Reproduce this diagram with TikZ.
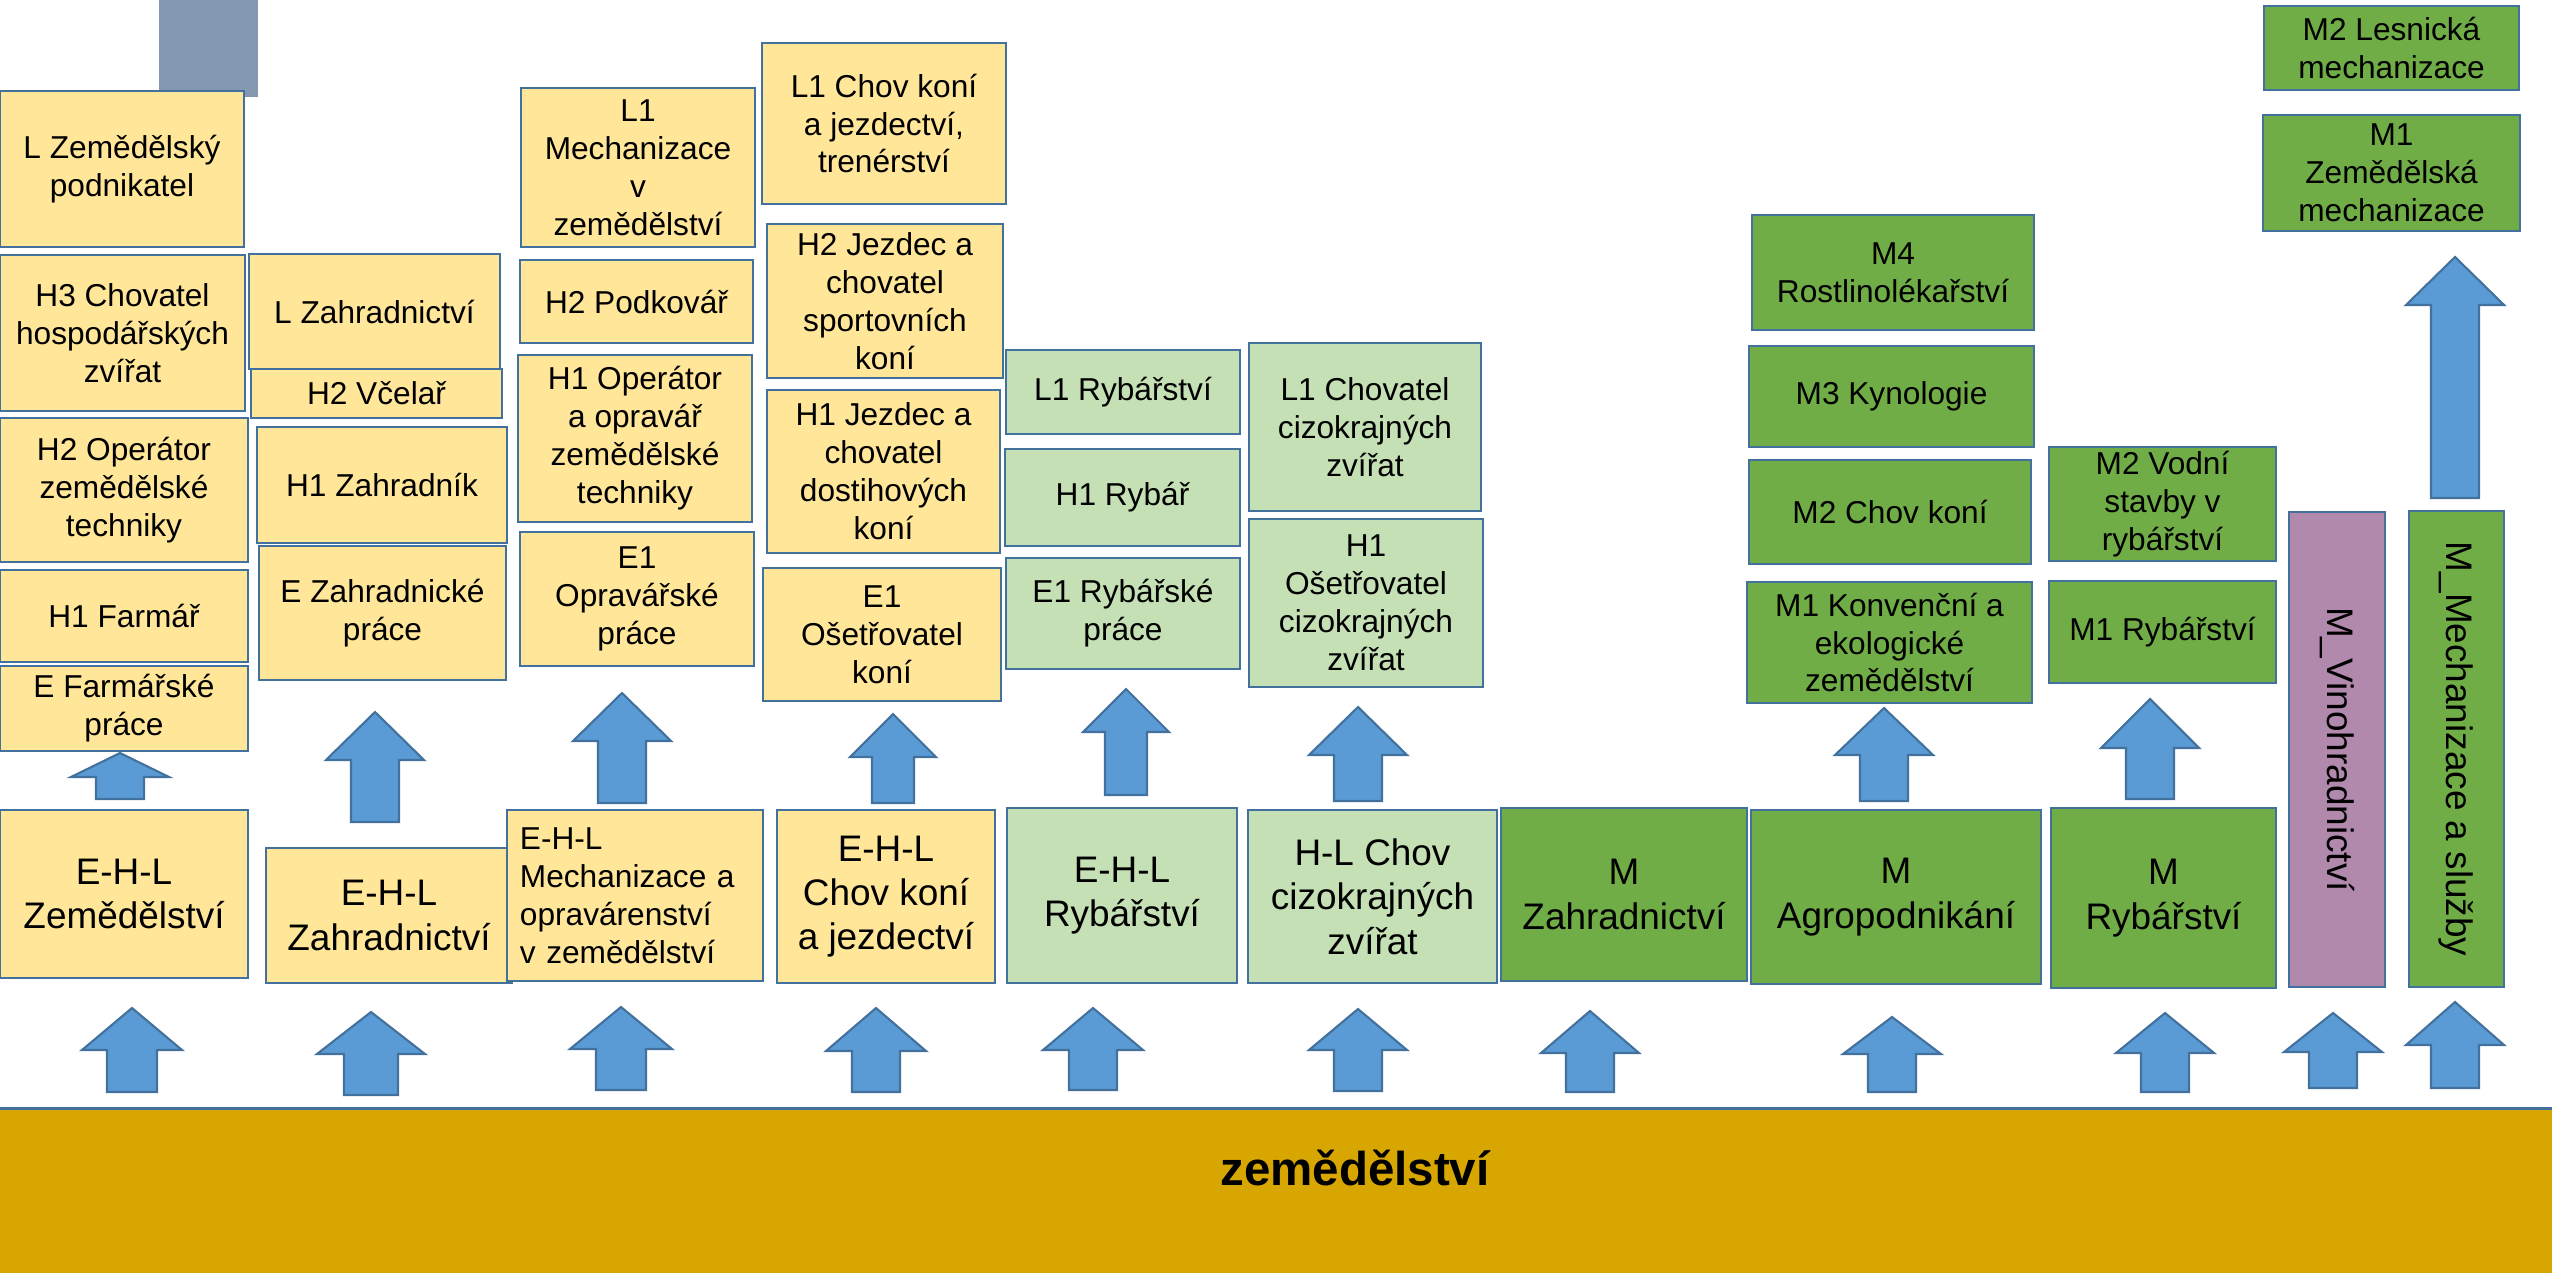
\documentclass[tikz,border=0pt]{standalone}
\usepackage{fontspec}
\setmainfont{Liberation Sans}
\definecolor{bordblue}{HTML}{41719C}
\definecolor{arrblue}{HTML}{5B9BD5}
\definecolor{yelfill}{HTML}{FFE699}
\definecolor{palegreen}{HTML}{C5E0B4}
\definecolor{leafgreen}{HTML}{70AD47}
\definecolor{vinecol}{HTML}{B189AC}
\definecolor{slate}{HTML}{8497B0}
\definecolor{bandcol}{HTML}{D8A600}
\tikzset{
    box/.style={rectangle,draw=bordblue,line width=0.75pt,inner sep=0,align=center,font=\fontsize{9}{10.8}\selectfont},
    yel/.style={box,fill=yelfill},
    pale/.style={box,fill=palegreen},
    grn/.style={box,fill=leafgreen},
    vino/.style={box,fill=vinecol},
    bigtxt/.style={font=\fontsize{10.5}{12.6}\selectfont},
    blockarr/.style={draw=bordblue,fill=arrblue,line width=0.6pt}
}
\begin{document}
\begin{tikzpicture}[x=0.01cm,y=-0.01cm]
    \useasboundingbox (0,0) rectangle (2552,1272);
    % base band
    \node[draw=bordblue,fill=bandcol,line width=0.75pt,minimum width=25.8cm,minimum height=1.8cm,anchor=north west,inner sep=0] (base) at (-10,1107) {};
    \node[font=\fontsize{13.5}{16}\selectfont\bfseries,anchor=base] (zem) at (1355,1185) {zemědělství};
    % column 1
    \fill[slate] (159,0) rectangle (258,97);
    \node[yel,minimum width=2.44cm,minimum height=1.56cm] (Lpod) at (122,169) {L Zemědělský\\podnikatel};
    \node[yel,minimum width=2.45cm,minimum height=1.56cm] (H3chov) at (122.5,333) {H3 Chovatel\\hospodářských\\zvířat};
    \node[yel,minimum width=2.48cm,minimum height=1.44cm] (H2oper) at (124,490) {H2 Operátor\\zemědělské\\techniky};
    \node[yel,minimum width=2.48cm,minimum height=0.92cm] (H1farm) at (124,616) {H1 Farmář};
    \node[yel,minimum width=2.48cm,minimum height=0.85cm] (Efarm) at (124,708.5) {E Farmářské\\práce};
    \node[yel,bigtxt,minimum width=2.48cm,minimum height=1.68cm] (EHLzem) at (124,894) {E-H-L\\Zemědělství};
    % column 2
    \node[yel,minimum width=2.51cm,minimum height=1.15cm] (Lzahr) at (374.5,311.5) {L Zahradnictví};
    \node[yel,minimum width=2.51cm,minimum height=0.49cm] (H2vcel) at (376.5,393.5) {H2 Včelař};
    \node[yel,minimum width=2.50cm,minimum height=1.16cm] (H1zahr) at (382,485) {H1 Zahradník};
    \node[yel,minimum width=2.47cm,minimum height=1.34cm] (Ezahr) at (382.5,613) {E Zahradnické\\práce};
    \node[yel,bigtxt,minimum width=2.46cm,minimum height=1.35cm] (EHLzahr) at (389,915.5) {E-H-L\\Zahradnictví};
    % column 3
    \node[yel,minimum width=2.34cm,minimum height=1.59cm] (L1mech) at (638,167.5) {L1\\Mechanizace\\v\\zemědělství};
    \node[yel,minimum width=2.33cm,minimum height=0.83cm] (H2podk) at (636.5,301.5) {H2 Podkovář};
    \node[yel,minimum width=2.34cm,minimum height=1.67cm] (H1oper) at (635,438.5) {H1 Operátor\\a opravář\\zemědělské\\techniky};
    \node[yel,minimum width=2.34cm,minimum height=1.34cm] (E1oprav) at (637,599) {E1\\Opravářské\\práce};
    \node[yel,align=left,minimum width=2.56cm,minimum height=1.71cm,text width=2.3cm] (EHLmech) at (635,895.5) {E-H-L\\Mechanizace a\\opravárenství\\v zemědělství};
    % column 4
    \node[yel,minimum width=2.44cm,minimum height=1.61cm] (L1chov) at (884,123.5) {L1 Chov koní\\a jezdectví,\\trenérství};
    \node[yel,minimum width=2.36cm,minimum height=1.54cm] (H2jezd) at (885,301) {H2 Jezdec a\\chovatel\\sportovních\\koní};
    \node[yel,minimum width=2.33cm,minimum height=1.63cm] (H1jezd) at (883.5,471.5) {H1 Jezdec a\\chovatel\\dostihových\\koní};
    \node[yel,minimum width=2.38cm,minimum height=1.33cm] (E1oset) at (882,634.5) {E1\\Ošetřovatel\\koní};
    \node[yel,bigtxt,minimum width=2.18cm,minimum height=1.73cm] (EHLchov) at (886,896.5) {E-H-L\\Chov koní\\a jezdectví};
    % column 5
    \node[pale,minimum width=2.34cm,minimum height=0.84cm] (L1ryb) at (1123,392) {L1 Rybářství};
    \node[pale,minimum width=2.35cm,minimum height=0.97cm] (H1ryb) at (1122.5,497.5) {H1 Rybář};
    \node[pale,minimum width=2.34cm,minimum height=1.11cm] (E1ryb) at (1123,613.5) {E1 Rybářské\\práce};
    \node[pale,bigtxt,minimum width=2.30cm,minimum height=1.75cm] (EHLryb) at (1122,895.5) {E-H-L\\Rybářství};
    % column 6
    \node[pale,minimum width=2.32cm,minimum height=1.68cm] (L1ciz) at (1365,427) {L1 Chovatel\\cizokrajných\\zvířat};
    \node[pale,minimum width=2.34cm,minimum height=1.68cm] (H1oset) at (1366,603) {H1\\Ošetřovatel\\cizokrajných\\zvířat};
    \node[pale,bigtxt,minimum width=2.49cm,minimum height=1.73cm] (HLciz) at (1372.5,896.5) {H-L Chov\\cizokrajných\\zvířat};
    % column 7
    \node[grn,bigtxt,minimum width=2.46cm,minimum height=1.73cm] (Mzahr) at (1624,894.5) {M\\Zahradnictví};
    % column 8
    \node[grn,minimum width=2.82cm,minimum height=1.15cm] (M4rost) at (1893,272.5) {M4\\Rostlinolékařství};
    \node[grn,minimum width=2.85cm,minimum height=1.01cm] (M3kyn) at (1891.5,396.5) {M3 Kynologie};
    \node[grn,minimum width=2.82cm,minimum height=1.04cm] (M2kon) at (1890,512) {M2 Chov koní};
    \node[grn,minimum width=2.85cm,minimum height=1.21cm] (M1konv) at (1889.5,642.5) {M1 Konvenční a\\ekologické\\zemědělství};
    \node[grn,bigtxt,minimum width=2.90cm,minimum height=1.74cm] (Magro) at (1896,897) {M\\Agropodnikání};
    % column 9
    \node[grn,minimum width=2.27cm,minimum height=1.14cm] (M2vod) at (2162.5,504) {M2 Vodní\\stavby v\\rybářství};
    \node[grn,minimum width=2.27cm,minimum height=1.02cm] (M1ryb) at (2162.5,632) {M1 Rybářství};
    \node[grn,bigtxt,minimum width=2.25cm,minimum height=1.80cm] (Mryb) at (2163.5,898) {M\\Rybářství};
    % column 10
    \node[vino,bigtxt,rotate=-90,minimum width=4.75cm,minimum height=0.96cm] (Mvino) at (2337,749.5) {M\_Vinohradnictví};
    % column 11
    \node[grn,minimum width=2.55cm,minimum height=0.84cm] (M2les) at (2391.5,48) {M2 Lesnická\\mechanizace};
    \node[grn,minimum width=2.57cm,minimum height=1.16cm] (M1zem) at (2391.5,173) {M1\\Zemědělská\\mechanizace};
    \node[grn,bigtxt,rotate=-90,minimum width=4.76cm,minimum height=0.95cm] (Mmech) at (2456.5,749) {M\_Mechanizace a služby};
    % block arrows: x / bottom / tip / head length / shaft half / head half
    \foreach \ax/\ybot/\ytip/\hl/\sw/\hw in {
        120/799/753/24/24/49, 132/1092/1008/42/25/50,
        375/822/712/48/24/49, 371/1095/1012/42/27/54,
        622/803/693/48/24/49, 621/1090/1007/42/25/51,
        893/803/714/43/21/43, 876/1092/1008/43/24/50,
        1126/795/689/43/21/43, 1093/1090/1008/42/24/50,
        1358/801/707/48/24/49, 1358/1091/1009/41/24/49,
        1590/1092/1011/42/24/49,
        1884/801/708/47/24/49, 1892/1092/1017/37/24/49,
        2150/799/699/49/24/49, 2165/1092/1013/40/24/49,
        2333/1088/1013/39/24/49,
        2455/498/257/48/24/49, 2455/1088/1002/43/24/49}
        \draw[blockarr] (\ax-\sw,\ybot) -- (\ax-\sw,\ytip+\hl) -- (\ax-\hw,\ytip+\hl) -- (\ax,\ytip)
            -- (\ax+\hw,\ytip+\hl) -- (\ax+\sw,\ytip+\hl) -- (\ax+\sw,\ybot) -- cycle;
\end{tikzpicture}
\end{document}
